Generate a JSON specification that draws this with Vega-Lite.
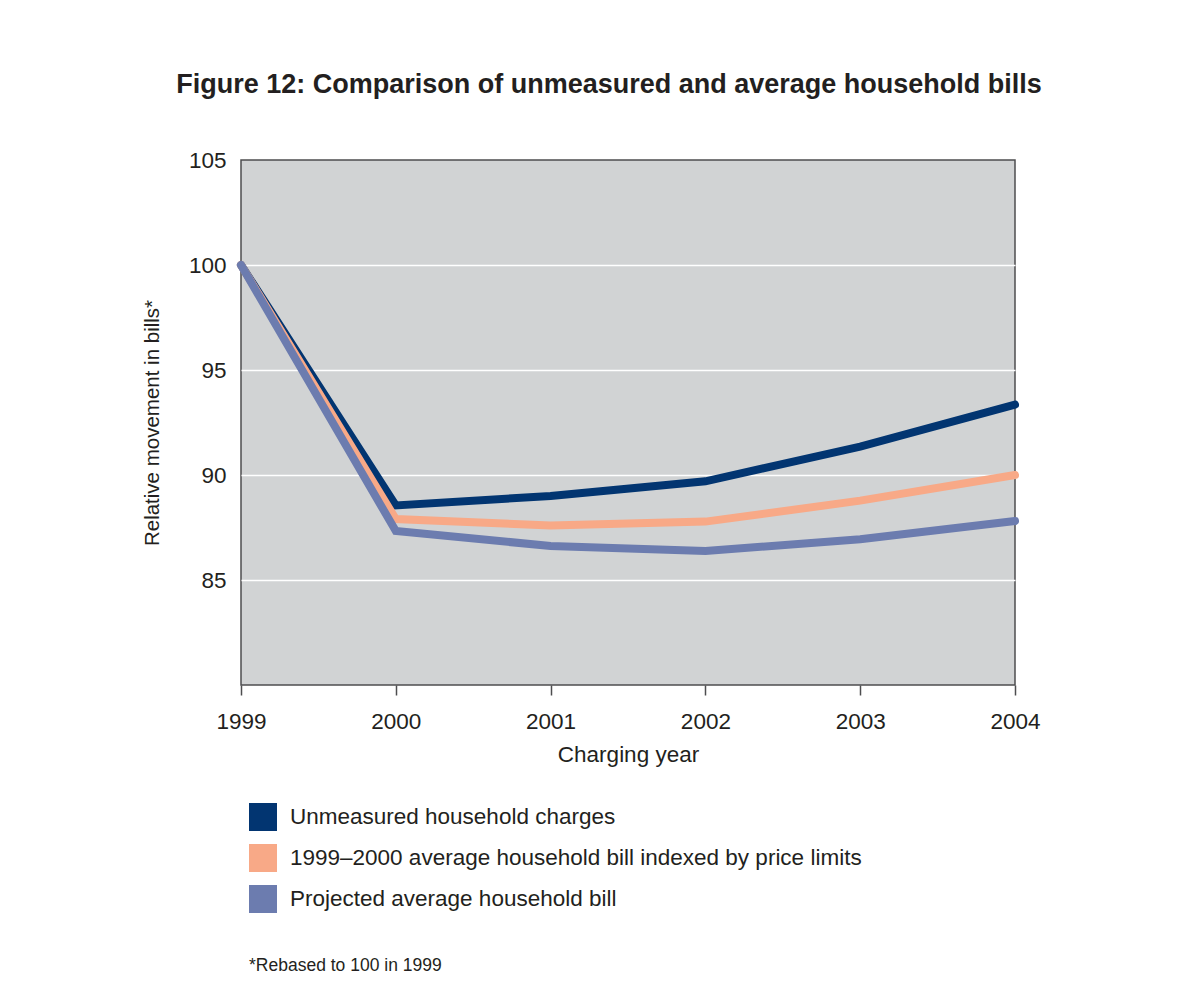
{
  "$schema": "https://vega.github.io/schema/vega-lite/v6.json",
  "width": 774,
  "height": 525,
  "autosize": {"type": "none"},
  "padding": {"left": 241, "top": 160, "right": 189, "bottom": 301},
  "background": "white",
  "title": {
    "text": "Figure 12: Comparison of unmeasured and average household bills",
    "font": "Liberation Sans",
    "fontSize": 27,
    "fontWeight": "bold",
    "color": "#231f20",
    "anchor": "middle",
    "frame": "group",
    "dx": -19,
    "offset": 50
  },
  "config": {
    "font": "Liberation Sans",
    "view": {"fill": "#d1d3d4", "stroke": "#4d4d4f", "strokeWidth": 1.5}
  },
  "data": {
    "values": [
      {"year": 1999, "value": 100, "series": "Unmeasured household charges"},
      {"year": 2000, "value": 88.55, "series": "Unmeasured household charges"},
      {"year": 2001, "value": 89.0, "series": "Unmeasured household charges"},
      {"year": 2002, "value": 89.7, "series": "Unmeasured household charges"},
      {"year": 2003, "value": 91.35, "series": "Unmeasured household charges"},
      {"year": 2004, "value": 93.35, "series": "Unmeasured household charges"},
      {"year": 1999, "value": 100, "series": "1999–2000 average household bill indexed by price limits"},
      {"year": 2000, "value": 87.9, "series": "1999–2000 average household bill indexed by price limits"},
      {"year": 2001, "value": 87.6, "series": "1999–2000 average household bill indexed by price limits"},
      {"year": 2002, "value": 87.78, "series": "1999–2000 average household bill indexed by price limits"},
      {"year": 2003, "value": 88.78, "series": "1999–2000 average household bill indexed by price limits"},
      {"year": 2004, "value": 90.0, "series": "1999–2000 average household bill indexed by price limits"},
      {"year": 1999, "value": 100, "series": "Projected average household bill"},
      {"year": 2000, "value": 87.33, "series": "Projected average household bill"},
      {"year": 2001, "value": 86.62, "series": "Projected average household bill"},
      {"year": 2002, "value": 86.38, "series": "Projected average household bill"},
      {"year": 2003, "value": 86.94, "series": "Projected average household bill"},
      {"year": 2004, "value": 87.81, "series": "Projected average household bill"}
    ]
  },
  "mark": {"type": "line", "strokeWidth": 8, "strokeCap": "round", "strokeJoin": "miter"},
  "encoding": {
    "x": {
      "field": "year",
      "type": "quantitative",
      "scale": {"domain": [1999, 2004], "nice": false, "zero": false},
      "axis": {
        "values": [1999, 2000, 2001, 2002, 2003, 2004],
        "format": "d",
        "title": "Charging year",
        "titleFont": "Liberation Sans",
        "titleFontSize": 22.5,
        "titleFontWeight": "normal",
        "titleColor": "#231f20",
        "titlePadding": 11,
        "labelFont": "Liberation Sans",
        "labelFontSize": 22.5,
        "labelColor": "#231f20",
        "labelPadding": 15,
        "labelFlush": false,
        "domain": false,
        "grid": false,
        "ticks": true,
        "tickSize": 10,
        "tickColor": "#4d4d4f",
        "tickWidth": 1.5
      }
    },
    "y": {
      "field": "value",
      "type": "quantitative",
      "scale": {"domain": [80, 105], "nice": false, "zero": false},
      "axis": {
        "values": [85, 90, 95, 100, 105],
        "title": "Relative movement in bills*",
        "titleFont": "Liberation Sans",
        "titleFontSize": 20.5,
        "titleFontWeight": "normal",
        "titleColor": "#231f20",
        "titlePadding": 26,
        "labelFont": "Liberation Sans",
        "labelFontSize": 22.5,
        "labelColor": "#231f20",
        "labelPadding": 15,
        "domain": false,
        "ticks": false,
        "grid": true,
        "gridColor": "white",
        "gridWidth": 1.5,
        "gridOpacity": {"condition": {"test": "datum.value == 105", "value": 0}, "value": 1}
      }
    },
    "color": {
      "field": "series",
      "type": "nominal",
      "sort": null,
      "scale": {
        "domain": ["Unmeasured household charges", "1999–2000 average household bill indexed by price limits", "Projected average household bill"],
        "range": ["#023571", "#f8a987", "#6c7caf"]
      },
      "legend": {
        "orient": "none",
        "legendX": 8,
        "legendY": 643,
        "direction": "vertical",
        "title": "*Rebased to 100 in 1999",
        "titleOrient": "bottom",
        "titleFont": "Liberation Sans",
        "titleFontSize": 17.5,
        "titleFontWeight": "normal",
        "titleColor": "#231f20",
        "titlePadding": 44,
        "titleLimit": 600,
        "symbolType": "square",
        "symbolSize": 784,
        "symbolStrokeWidth": 0,
        "symbolOpacity": 1,
        "labelFont": "Liberation Sans",
        "labelFontSize": 22.5,
        "labelColor": "#231f20",
        "labelOffset": 13,
        "labelLimit": 800,
        "rowPadding": 13,
        "padding": 0,
        "encode": {
          "symbols": {
            "update": {
              "fill": {"scale": "color", "field": "value"},
              "stroke": {"value": "transparent"}
            }
          }
        }
      }
    }
  }
}
